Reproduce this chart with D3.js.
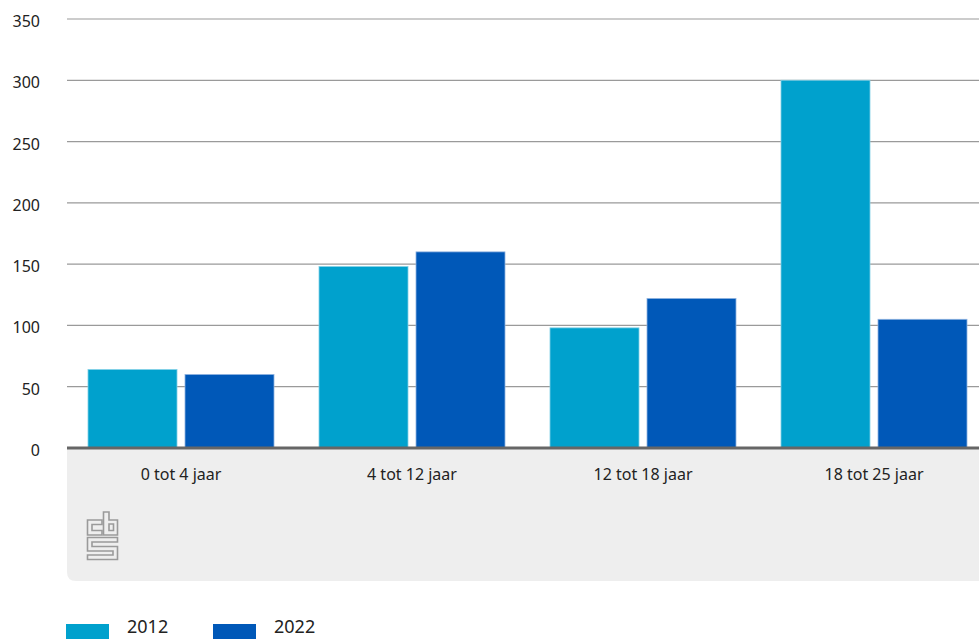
<!DOCTYPE html>
<html>
<head>
<meta charset="utf-8">
<script src="https://cdn.jsdelivr.net/npm/d3@7"></script>
<style>
  html, body { margin: 0; padding: 0; background: #ffffff; }
  svg { display: block; font-family: "Noto Sans", "Open Sans", sans-serif; }
</style>
</head>
<body>
<svg id="chart" width="979" height="639"></svg>
<script>
const categories = ["0 tot 4 jaar", "4 tot 12 jaar", "12 tot 18 jaar", "18 tot 25 jaar"];
const seriesNames = ["2012", "2022"];
const values2012 = [64, 148, 98, 300];
const values2022 = [60, 160, 122, 105];
const yTicks = [0, 50, 100, 150, 200, 250, 300, 350];
const colors = ["#00a1cd", "#0058b8"];

(function () {
const svg = d3.select("#chart");
const W = 979;
const pLeft = 67, pRight = 979, pTop = 19, pBottom = 448;

// category bands (last band runs past the right edge, as in the reference)
const x0 = d3.scaleBand().domain(categories).range([65.5, 989.5]).paddingInner(0).paddingOuter(0);
const x1 = d3.scaleBand().domain(seriesNames).range([22.5, x0.bandwidth() - 22.5]).paddingInner(8 / 97).paddingOuter(0);
const y = d3.scaleLinear().domain([0, 350]).range([pBottom, pTop]);

// gray category area
const gx = pLeft, gy = pBottom + 1, gw = W - pLeft + 20, gh = 581 - gy, r = 9;
svg.append("path")
  .attr("d", `M${gx},${gy} H${gx + gw} V${gy + gh} H${gx + r} Q${gx},${gy + gh} ${gx},${gy + gh - r} Z`)
  .attr("fill", "#eeeeee");

// gridlines
svg.append("g").selectAll("line")
  .data(yTicks.filter(d => d > 0))
  .join("line")
  .attr("x1", pLeft).attr("x2", pRight)
  .attr("y1", d => y(d)).attr("y2", d => y(d))
  .attr("stroke", "#9a9a9a").attr("stroke-width", 1.2);

// y tick labels
svg.append("g").selectAll("text")
  .data(yTicks)
  .join("text")
  .attr("x", 40)
  .attr("y", d => y(d) + 8)
  .attr("text-anchor", "end")
  .attr("font-size", 16)
  .attr("fill", "#222")
  .text(d => d);

// bars
const data = categories.map((c, i) => ({ cat: c, vals: [values2012[i], values2022[i]] }));
const groups = svg.append("g").selectAll("g")
  .data(data)
  .join("g")
  .attr("transform", d => `translate(${x0(d.cat)},0)`);
groups.selectAll("rect")
  .data(d => d.vals.map((v, j) => ({ s: seriesNames[j], v, j })))
  .join("rect")
  .attr("x", d => x1(d.s))
  .attr("y", d => y(d.v))
  .attr("width", x1.bandwidth())
  .attr("height", d => y(0) - y(d.v))
  .attr("fill", d => colors[d.j])
  .attr("stroke", d => d.j === 0 ? "#7fd0e6" : "#8fb3e0")
  .attr("stroke-width", 0.8);

// baseline
svg.append("line")
  .attr("x1", pLeft).attr("x2", pRight)
  .attr("y1", y(0)).attr("y2", y(0))
  .attr("stroke", "#666666").attr("stroke-width", 3);

// x labels
svg.append("g").selectAll("text")
  .data(categories)
  .join("text")
  .attr("x", d => x0(d) + x0.bandwidth() / 2)
  .attr("y", 480)
  .attr("text-anchor", "middle")
  .attr("font-size", 16)
  .attr("fill", "#222")
  .text(d => d);

// cbs logo
const logo = svg.append("g").attr("fill", "none").attr("stroke", "#9a9a9a").attr("stroke-width", 1.6);
logo.append("path").attr("d", "M102,520 H87.5 V535 H102 V530.5 H92 V524.5 H102 Z");
logo.append("path").attr("d", "M103.5,512 H109 V520 H117.5 V535 H103.5 Z");
logo.append("path").attr("d", "M109,524 H113.5 V530.5 H109 Z");
logo.append("path").attr("d", "M87.5,537.5 H117.5 V542 H92 V546.5 H117.5 V559.5 H87.5 V555 H113 V551 H87.5 Z");

// legend
const legend = svg.append("g");
const legX = [66, 213];
seriesNames.forEach((s, i) => {
  legend.append("rect")
    .attr("x", legX[i]).attr("y", 624)
    .attr("width", 43).attr("height", 20)
    .attr("fill", colors[i]);
  legend.append("text")
    .attr("x", legX[i] + 61).attr("y", 633)
    .attr("font-size", 18)
    .attr("fill", "#222")
    .text(s);
});
})();
</script>
</body>
</html>
